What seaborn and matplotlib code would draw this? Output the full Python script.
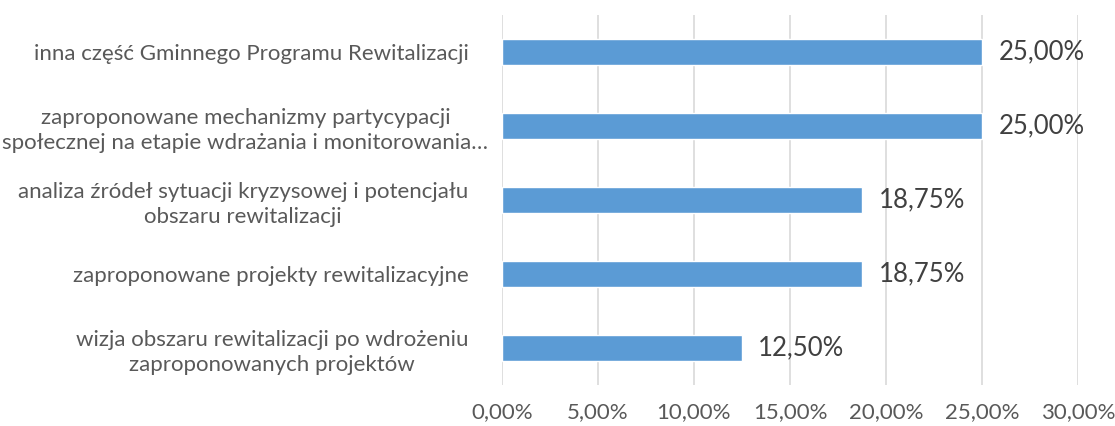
import pandas as pd
import matplotlib.pyplot as plt
import matplotlib.transforms as mtransforms
import seaborn as sns
from matplotlib.ticker import FuncFormatter

# Data (top to bottom as shown in the chart)
categories = [
    'inna część Gminnego Programu Rewitalizacji',
    'zaproponowane mechanizmy partycypacji\nspołecznej na etapie wdrażania i monitorowania…',
    'analiza źródeł sytuacji kryzysowej i potencjału\nobszaru rewitalizacji',
    'zaproponowane projekty rewitalizacyjne',
    'wizja obszaru rewitalizacji po wdrożeniu\nzaproponowanych projektów',
]
shares = [25.00, 25.00, 18.75, 18.75, 12.50]
x_ticks = [0, 5, 10, 15, 20, 25, 30]

data = pd.DataFrame({'category': categories, 'share': shares})

sns.set_style('white')
plt.rcParams['font.family'] = ['Lato', 'DejaVu Sans']

def pct(v):
    return f'{v:.2f}%'.replace('.', ',')

fig = plt.figure(figsize=(11.15, 4.26), dpi=100)
ax = fig.add_axes([0.450, 0.096, 0.517, 0.869])

sns.barplot(data=data, x='share', y='category', orient='h', color='#5B9BD5',
            width=0.35, saturation=1, ax=ax, zorder=3)

for i, v in enumerate(shares):
    ax.text(v + 0.85, i, pct(v), va='center', ha='left', fontsize=18.5, color='#404040')

ax.set_xlim(0, 30)
ax.set_xticks(x_ticks)
ax.xaxis.set_major_formatter(FuncFormatter(lambda v, p: pct(v)))
ax.grid(axis='x', color='#D9D9D9', linewidth=1.2, zorder=0)
ax.set_xlabel('')
ax.set_ylabel('')
for s in ax.spines.values():
    s.set_visible(False)
ax.tick_params(axis='x', labelsize=16, colors='#595959', length=0, pad=12)
ax.tick_params(axis='y', labelsize=16, colors='#595959', length=0, pad=24)
for lbl in ax.get_yticklabels():
    lbl.set_multialignment('center')
    lbl.set_linespacing(1.3)

# the long second label reaches closer to the axis, as in the original
lbl2 = ax.get_yticklabels()[1]
lbl2.set_transform(lbl2.get_transform() +
                   mtransforms.ScaledTranslation(0.2, 0, fig.dpi_scale_trans))

fig.savefig('out.png', dpi=100)
